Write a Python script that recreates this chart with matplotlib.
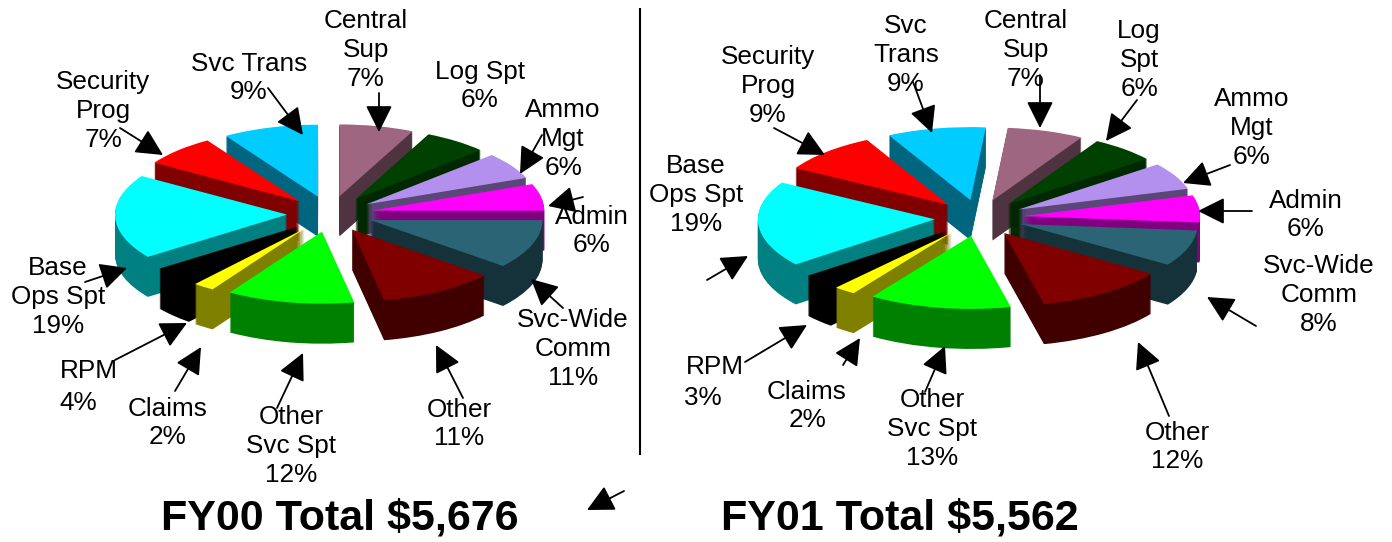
import matplotlib
matplotlib.use("Agg")
import matplotlib.pyplot as plt
import numpy as np
from matplotlib.patches import FancyArrowPatch

W, H = 1392, 542
plt.rcParams['font.family'] = ['Liberation Sans', 'DejaVu Sans']

categories = ["Central Sup", "Log Spt", "Ammo Mgt", "Admin", "Svc-Wide Comm", "Other",
              "Other Svc Spt", "Claims", "RPM", "Base Ops Spt", "Security Prog", "Svc Trans"]
fy00_values = [7, 6, 6, 6, 11, 11, 12, 2, 4, 19, 7, 9]
fy01_values = [7, 6, 6, 6, 8, 12, 13, 2, 3, 19, 9, 9]
top_colors = ["#9E6680", "#004000", "#B38FEE", "#FF00FF", "#2A6475", "#800000",
              "#00FF00", "#FFFF00", "#000000", "#00FFFF", "#FF0000", "#00CCFF"]
side_colors = ["#4F3340", "#002800", "#5A4778", "#800080", "#15323B", "#400000",
               "#008000", "#808000", "#000000", "#008080", "#800000", "#006680"]

fy00_labels = [("Central\nSup\n7%", 366, 50), ("Log Spt\n6%", 480, 86), ("Ammo\nMgt\n6%", 563, 139),
               ("Admin\n6%", 592, 231), ("Svc-Wide\nComm\n11%", 573, 349), ("Other\n11%", 459, 424),
               ("Other\nSvc Spt\n12%", 291, 446), ("Claims\n2%", 168, 423), ("RPM", 89, 371), ("4%", 78, 403),
               ("Base\nOps Spt\n19%", 58, 297), ("Security\nProg\n7%", 103, 111), ("Svc Trans\n9%", 249, 78)]
fy01_labels = [("Central\nSup\n7%", 1026, 50), ("Log\nSpt\n6%", 1139, 60), ("Ammo\nMgt\n6%", 1252, 128),
               ("Admin\n6%", 1306, 215), ("Svc-Wide\nComm\n8%", 1319, 295), ("Other\n12%", 1177, 447),
               ("Other\nSvc Spt\n13%", 932, 429), ("Claims\n2%", 807, 406), ("RPM", 715, 367), ("3%", 703, 398),
               ("Base\nOps Spt\n19%", 696, 195), ("Security\nProg\n9%", 768, 86), ("Svc\nTrans\n9%", 906, 55)]
titles = [("FY00 Total $5,676", 340, 519), ("FY01 Total $5,562", 900, 519)]

arrows = [((120, 128), (163, 155)), ((268, 88), (303, 135)), ((379, 93), (379, 132)),
          ((542, 135), (520, 174)), ((583, 197), (548, 206)), ((563, 308), (531, 279)),
          ((463, 398), (436, 345)), ((277, 408), (303, 353)), ((175, 391), (201, 347)),
          ((115, 360), (187, 323)), ((85, 282), (127, 268)), ((624, 491), (587, 510)),
          ((913, 82), (932, 133)), ((774, 128), (825, 155)), ((1040, 75), (1040, 128)),
          ((1137, 100), (1106, 141)), ((1230, 165), (1183, 183)), ((1252, 211), (1198, 211)),
          ((1256, 326), (1207, 297)), ((1169, 416), (1138, 342)), ((925, 392), (945, 346)),
          ((843, 365), (860, 338)), ((745, 362), (807, 325)), ((707, 280), (748, 256))]

EXPLODE = 0.25
DEPTH_PX = 40
LIM = 1.5

fig = plt.figure(figsize=(W / 100, H / 100), dpi=100, facecolor="white")


def draw_pie(values, cx, cy, rx, ry, start):
    ax = fig.add_axes([(cx - rx * LIM) / W, 1 - (cy + ry * LIM + DEPTH_PX) / H,
                       2 * rx * LIM / W, (2 * ry * LIM + DEPTH_PX) / H])
    explode = [EXPLODE] * len(values)
    shares = np.array(values, dtype=float)
    mids = np.deg2rad(start - 360 * (np.cumsum(shares) - shares / 2) / shares.sum())
    order = np.argsort(np.argsort(-np.sin(mids)))  # back slices first
    for layer in range(DEPTH_PX + 1):
        offset = -(DEPTH_PX - layer) / ry
        cols = top_colors if layer == DEPTH_PX else side_colors
        wedges, _ = ax.pie(values, colors=cols, explode=explode, startangle=start,
                           counterclock=False, center=(0, offset), radius=1,
                           wedgeprops=dict(linewidth=0))
        for w, rank in zip(wedges, order):
            w.set_zorder(rank * 1000 + layer)
    ax.set_aspect("auto")
    ax.set_xlim(-LIM, LIM)
    ax.set_ylim(-LIM - DEPTH_PX / ry, LIM)
    ax.axis("off")


draw_pie(fy00_values, 330, 214, 172, 72, 90)
draw_pie(fy01_values, 979, 218, 177, 73, 85)

ov = fig.add_axes([0, 0, 1, 1], zorder=10)
ov.set_xlim(0, W)
ov.set_ylim(H, 0)
ov.axis("off")
ov.patch.set_alpha(0)

ov.plot([640, 640], [8, 455], color="black", lw=1.5, solid_capstyle="butt")

for tail, head in arrows:
    ov.add_patch(FancyArrowPatch(tail, head, arrowstyle="-|>,head_length=1.1,head_width=0.55",
                                 mutation_scale=15, lw=1.3, color="black",
                                 shrinkA=0, shrinkB=0))

for txt, x, y in fy00_labels + fy01_labels:
    ov.text(x, y, txt, ha="center", va="center", fontsize=18.8, linespacing=1.24, color="black")

for txt, x, y in titles:
    ov.text(x, y, txt, ha="center", va="center", fontsize=31, fontweight="bold", color="black")

fig.savefig("out.png", dpi=100)
